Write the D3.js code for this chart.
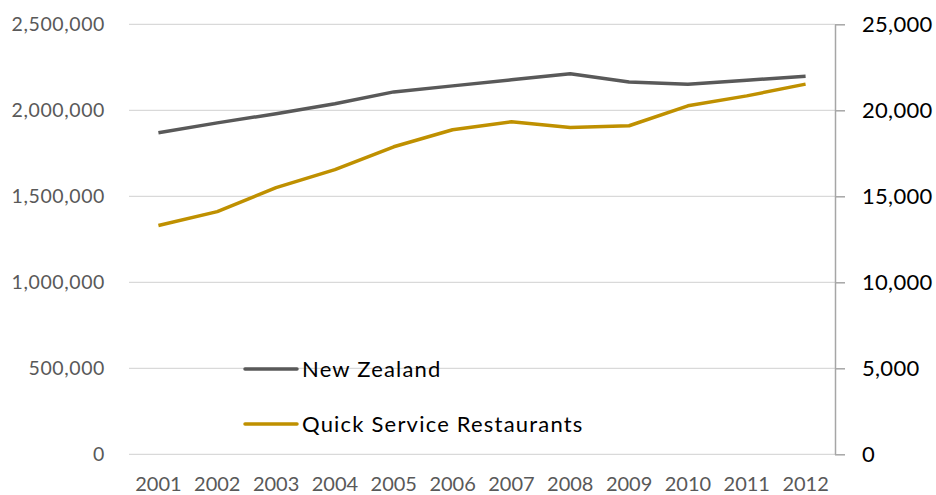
<!DOCTYPE html>
<html>
<head>
<meta charset="utf-8">
<script src="https://cdn.jsdelivr.net/npm/d3@7"></script>
<style>
  body { margin: 0; background: #fff; }
  text { font-family: Lato, "Open Sans", sans-serif; }
</style>
</head>
<body>
<svg id="chart" width="936" height="495"></svg>
<script>
const years = ["2001","2002","2003","2004","2005","2006","2007","2008","2009","2010","2011","2012"];
const newZealand = [1869000,1927000,1980000,2038000,2107000,2142000,2177000,2213000,2165000,2152000,2175000,2198000];
const quickService = [13300,14110,15500,16550,17880,18870,19330,19000,19100,20260,20840,21520];
const leftTicks = [0,500000,1000000,1500000,2000000,2500000];
const rightTicks = [0,5000,10000,15000,20000,25000];
const seriesNames = ["New Zealand","Quick Service Restaurants"];
const seriesColors = ["#595959","#BF9000"];

const svg = d3.select("#chart");
const m = {left: 129, right: 835, top: 24.3, bottom: 454.3};

const x = d3.scaleBand().domain(years).range([m.left, m.right]);
const yL = d3.scaleLinear().domain([0, 2500000]).range([m.bottom, m.top]);
const yR = d3.scaleLinear().domain([0, 25000]).range([m.bottom, m.top]);
const fmt = d3.format(",");
const font = "Lato, 'Open Sans', sans-serif";

// horizontal gridlines
svg.append("g").selectAll("line").data(leftTicks).join("line")
  .attr("x1", m.left).attr("x2", m.right)
  .attr("y1", d => yL(d)).attr("y2", d => yL(d))
  .attr("stroke", "#d9d9d9").attr("stroke-width", 1.3);

// left axis labels
const gL = svg.append("g").attr("transform", `translate(${m.left},0)`)
  .call(d3.axisLeft(yL).tickValues(leftTicks).tickFormat(fmt).tickSize(0).tickPadding(24));
gL.select(".domain").remove();
gL.selectAll("text").attr("font-size", 19.5).attr("fill", "#595959")
  .attr("letter-spacing", 0.6).style("font-family", font);

// right axis
const gR = svg.append("g").attr("transform", `translate(${m.right},0)`)
  .call(d3.axisRight(yR).tickValues(rightTicks).tickFormat(fmt).tickSize(10).tickSizeOuter(0).tickPadding(17));
gR.select(".domain").attr("stroke", "#a6a6a6").attr("stroke-width", 1.5);
gR.selectAll(".tick line").attr("stroke", "#a6a6a6").attr("stroke-width", 1.5);
gR.selectAll("text").attr("font-size", 22).attr("fill", "#000")
  .attr("letter-spacing", 0.3).style("font-family", font);

// x axis labels
const gX = svg.append("g").attr("transform", `translate(0,${m.bottom})`)
  .call(d3.axisBottom(x).tickSize(0).tickPadding(23));
gX.select(".domain").remove();
gX.selectAll("text").attr("font-size", 20).attr("fill", "#595959")
  .style("font-family", font);

const cx = d => x(d) + x.bandwidth() / 2;

// series lines
const lineL = d3.line().x((d, i) => cx(years[i])).y(d => yL(d));
const lineR = d3.line().x((d, i) => cx(years[i])).y(d => yR(d));
svg.append("path").datum(newZealand).attr("d", lineL)
  .attr("fill", "none").attr("stroke", seriesColors[0]).attr("stroke-width", 3.5)
  .attr("stroke-linejoin", "round");
svg.append("path").datum(quickService).attr("d", lineR)
  .attr("fill", "none").attr("stroke", seriesColors[1]).attr("stroke-width", 3.5)
  .attr("stroke-linejoin", "round");

// legend
const legend = svg.append("g").attr("transform", "translate(245,369)");
seriesNames.forEach((name, i) => {
  const g = legend.append("g").attr("transform", `translate(0,${i * 55})`);
  g.append("line").attr("x1", 0).attr("x2", 52).attr("y1", 0).attr("y2", 0)
    .attr("stroke", seriesColors[i]).attr("stroke-width", 3.5).attr("stroke-linecap", "round");
  g.append("text").attr("x", 57).attr("y", 8).attr("font-size", 22).attr("fill", "#000")
    .attr("letter-spacing", 1.2).text(name);
});
</script>
</body>
</html>
